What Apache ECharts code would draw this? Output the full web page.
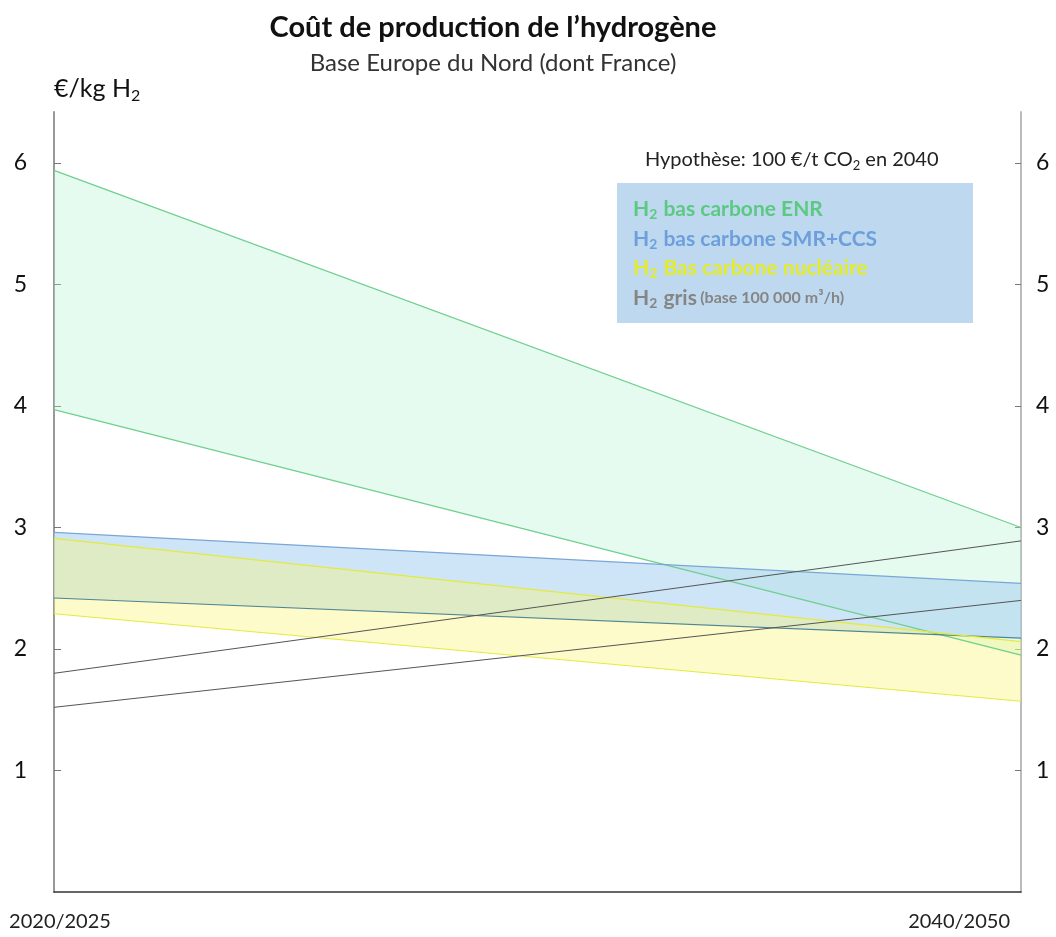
<!DOCTYPE html>
<html>
<head>
<meta charset="utf-8">
<title>Coût de production de l'hydrogène</title>
<script src="https://cdn.jsdelivr.net/npm/echarts@6/dist/echarts.min.js"></script>
<style>
	*{
		margin: 0;
		padding: 0;
	}
	#chart{
		width: 1056px;
		height: 937px;
		background: #fff;
	}
</style>
</head>
<body>
<div id="chart"></div>
<script>
// périodes (axe x)
var periods = ['2020/2025', '2040/2050'];

// bornes haute / basse de chaque filière, en €/kg H2
var enrHigh = [5.94, 3.00];
var enrLow = [3.97, 1.95];
var smrHigh = [2.96, 2.54];
var smrLow = [2.42, 2.09];
var nucHigh = [2.91, 2.06];
var nucLow = [2.29, 1.57];
var grisHigh = [1.80, 2.89];
var grisLow = [1.52, 2.40];

// graduations de l'axe y
var yTicks = [1, 2, 3, 4, 5, 6];

var font = 'Lato, "Open Sans", sans-serif';

// écart entre borne haute et basse, pour la bande empilée
function gap(high, low){
	var d = [];
	for (var i = 0; i < high.length; i++) {
		d.push(+(high[i] - low[i]).toFixed(3));
	}
	return d;
}

function sub(color){
	return {color: color, fontSize: 14, fontWeight: 'bold', fontFamily: font, verticalAlign: 'bottom', lineHeight: 24, padding: [0, 1, 0, 0]};
}
function main(color){
	return {color: color, fontSize: 21, fontWeight: 'bold', fontFamily: font, lineHeight: 24};
}

var legendText = {
	'ENR': '{ga|H}{gs|2}{ga| bas carbone ENR}',
	'SMR+CCS': '{ba|H}{bs|2}{ba| bas carbone SMR+CCS}',
	'Nucléaire': '{ya|H}{ys|2}{ya| Bas carbone nucléaire}',
	'Gris': '{ka|H}{ks|2}{ka| gris} {kn|(base 100 000 m³/h)}'
};

function band(name, low, high, lineColor, lowColor, fill){
	return [
		{
			name: name, type: 'line', stack: name, data: low, symbol: 'none',
			lineStyle: {color: lowColor, width: 1.2}, itemStyle: {color: lineColor},
			silent: true
		},
		{
			name: name, type: 'line', stack: name, data: gap(high, low), symbol: 'none',
			lineStyle: {color: lineColor, width: 1.2}, itemStyle: {color: lineColor},
			areaStyle: {color: fill, opacity: 1},
			silent: true
		}
	];
}

var series = [].concat(
	band('ENR', enrLow, enrHigh, '#6fcf8f', '#6fcf8f', 'rgba(180,242,205,0.33)'),
	band('SMR+CCS', smrLow, smrHigh, '#7aa6d6', '#4f8595', 'rgba(165,208,242,0.55)'),
	band('Nucléaire', nucLow, nucHigh, '#e4ea3c', '#e4ea3c', 'rgba(250,246,120,0.4)'),
	[
		{name: 'Gris', type: 'line', data: grisHigh, symbol: 'none', lineStyle: {color: '#555', width: 1}, itemStyle: {color: '#555'}, silent: true},
		{name: 'Gris', type: 'line', data: grisLow, symbol: 'none', lineStyle: {color: '#555', width: 1}, itemStyle: {color: '#555'}, silent: true}
	]
);

var myChart = echarts.init(document.getElementById('chart'));

var option = {
	backgroundColor: '#fff',
	animation: false,
	title: [
		{
			text: 'Coût de production de l’hydrogène',
			subtext: 'Base Europe du Nord (dont France)',
			left: 488,
			top: 8,
			textAlign: 'center',
			itemGap: 9,
			textStyle: {fontFamily: font, fontSize: 29, fontWeight: 'bold', color: '#111'},
			subtextStyle: {fontFamily: font, fontSize: 24, color: '#333'}
		},
		{
			text: '{t|Hypothèse: 100 €/t CO}{s|2}{t| en 2040}',
			left: 640,
			top: 143,
			textStyle: {
				fontWeight: 'normal',
				rich: {
					t: {fontFamily: font, fontSize: 20, fontWeight: 'normal', color: '#222', lineHeight: 24},
					s: {fontFamily: font, fontSize: 13, fontWeight: 'normal', color: '#222', verticalAlign: 'bottom', lineHeight: 24}
				}
			}
		}
	],
	graphic: [
		{
			type: 'rect',
			left: 617,
			top: 183,
			shape: {width: 356, height: 140},
			style: {fill: '#bed9ef'},
			z: 0
		}
	],
	legend: {
		data: ['ENR', 'SMR+CCS', 'Nucléaire', 'Gris'],
		orient: 'vertical',
		left: 628,
		top: 199,
		icon: 'none',
		itemWidth: 0,
		itemHeight: 0,
		itemGap: 7,
		padding: 0,
		selectedMode: false,
		formatter: function(name){
			return legendText[name];
		},
		textStyle: {
			rich: {
				ga: main('#5cc983'), gs: sub('#5cc983'),
				ba: main('#6c9fdc'), bs: sub('#6c9fdc'),
				ya: main('#e3eb2a'), ys: sub('#e3eb2a'),
				ka: main('#858585'), ks: sub('#858585'),
				kn: {color: '#858585', fontSize: 16, fontWeight: 'bold', fontFamily: font, lineHeight: 24}
			}
		}
	},
	grid: {
		left: 54,
		right: 35,
		top: 112,
		bottom: 45
	},
	xAxis: {
		type: 'category',
		data: periods,
		boundaryGap: false,
		axisLine: {lineStyle: {color: '#333', width: 1.5}},
		axisTick: {show: false},
		axisLabel: {
			color: '#222',
			fontFamily: font,
			fontSize: 20,
			margin: 20,
			alignMinLabel: 'center',
			alignMaxLabel: 'right',
			formatter: function(value, idx){
				return idx === 0 ? '{a|' + value + '}' : '{b|' + value + '}';
			},
			rich: {
				a: {fontFamily: font, fontSize: 20, color: '#222', padding: [0, 0, 0, 12]},
				b: {fontFamily: font, fontSize: 20, color: '#222', padding: [0, 11, 0, 0]}
			}
		},
		splitLine: {show: false}
	},
	yAxis: [
		{
			type: 'value',
			min: 0,
			max: 6.42,
			interval: 1,
			position: 'left',
			name: '{n|€/kg H}{s|2}',
			nameLocation: 'end',
			nameGap: 8,
			nameTextStyle: {
				align: 'left',
				rich: {
					n: {fontFamily: font, fontSize: 25, color: '#111', lineHeight: 30},
					s: {fontFamily: font, fontSize: 16, color: '#111', verticalAlign: 'bottom', lineHeight: 30}
				}
			},
			axisLine: {show: true, lineStyle: {color: '#999', width: 2}},
			axisTick: {show: true, inside: true, length: 7, lineStyle: {color: '#777'}, customValues: yTicks},
			axisLabel: {color: '#111', fontFamily: font, fontSize: 23, margin: 27, customValues: yTicks},
			splitLine: {show: false}
		},
		{
			type: 'value',
			min: 0,
			max: 6.42,
			interval: 1,
			position: 'right',
			axisLine: {show: true, lineStyle: {color: '#bbb', width: 2}},
			axisTick: {show: true, inside: true, length: 6, lineStyle: {color: '#777'}, customValues: yTicks},
			axisLabel: {color: '#111', fontFamily: font, fontSize: 23, margin: 15, customValues: yTicks},
			splitLine: {show: false}
		}
	],
	series: series
};

myChart.setOption(option);
</script>
</body>
</html>
